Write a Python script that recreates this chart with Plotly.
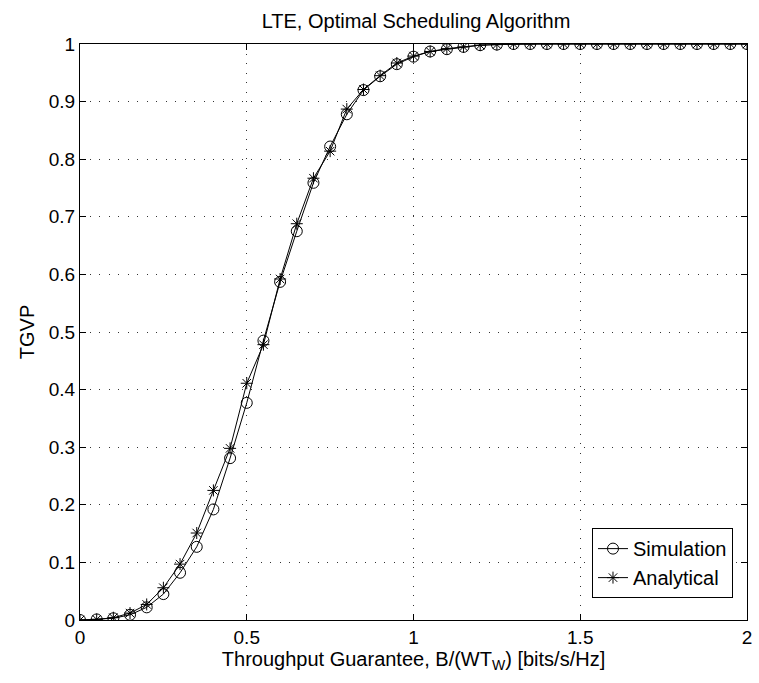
import plotly.graph_objects as go

x_vals = [round(0.05 * i, 2) for i in range(41)]
sim_vals = [0.0, 0.001, 0.003, 0.009, 0.022, 0.045, 0.082, 0.127, 0.192, 0.281,
            0.377, 0.485, 0.587, 0.675, 0.759, 0.822, 0.878, 0.920, 0.944, 0.965,
            0.978, 0.987, 0.991, 0.995, 0.998, 0.999, 1.0, 1.0, 1.0, 1.0,
            1.0, 1.0, 1.0, 1.0, 1.0, 1.0, 1.0, 1.0, 1.0, 1.0, 1.0]
ana_vals = [0.0, 0.001, 0.004, 0.012, 0.027, 0.056, 0.097, 0.151, 0.225, 0.298,
            0.411, 0.478, 0.592, 0.688, 0.767, 0.814, 0.887, 0.921, 0.945, 0.967,
            0.979, 0.987, 0.992, 0.995, 0.998, 0.999, 1.0, 1.0, 1.0, 1.0,
            1.0, 1.0, 1.0, 1.0, 1.0, 1.0, 1.0, 1.0, 1.0, 1.0, 1.0]

x_ticks = [0, 0.5, 1, 1.5, 2]
x_ticklabels = ["0", "0.5", "1", "1.5", "2"]
y_ticks = [round(0.1 * i, 1) for i in range(11)]
y_ticklabels = ["0", "0.1", "0.2", "0.3", "0.4", "0.5", "0.6", "0.7", "0.8", "0.9", "1"]

FONT = "Liberation Sans, Arial, Helvetica, sans-serif"

fig = go.Figure()
fig.add_trace(go.Scatter(
    x=x_vals, y=sim_vals, name="Simulation", mode="lines+markers",
    line=dict(color="black", width=1),
    marker=dict(symbol="circle-open", size=11, color="black", line=dict(width=1)),
))
fig.add_trace(go.Scatter(
    x=x_vals, y=ana_vals, name="Analytical", mode="lines+markers",
    line=dict(color="black", width=1),
    marker=dict(symbol="asterisk-open", size=10, color="black", line=dict(width=1)),
))

axis_common = dict(
    showline=True, linecolor="black", linewidth=1, mirror="allticks",
    ticks="inside", ticklen=6, tickcolor="black",
    showgrid=True, gridcolor="#333333", griddash="1px,8.5px", gridwidth=1,
    zeroline=False, tickfont=dict(family=FONT, size=19, color="black"),
)

fig.update_layout(
    width=759, height=683,
    margin=dict(l=80, r=7, t=44, b=63),
    paper_bgcolor="white", plot_bgcolor="white",
    font=dict(family=FONT, size=19, color="black"),
    title=dict(text="LTE, Optimal Scheduling Algorithm", x=(80 + 752) / 2 / 759, xanchor="center",
               y=1 - 21 / 683, yanchor="middle", font=dict(family=FONT, size=20, color="black")),
    xaxis=dict(range=[0, 2], tickvals=x_ticks, ticktext=x_ticklabels,
               title=dict(text="Throughput Guarantee, B/(WT<sub>W</sub>) [bits/s/Hz]",
                          font=dict(family=FONT, size=20), standoff=2),
               **axis_common),
    yaxis=dict(range=[0, 1], tickvals=y_ticks, ticktext=y_ticklabels,
               title=dict(text="TGVP", font=dict(family=FONT, size=20), standoff=8),
               **axis_common),
    legend=dict(x=0.979, y=0.038, xanchor="right", yanchor="bottom",
                bgcolor="white", bordercolor="black", borderwidth=1,
                font=dict(family=FONT, size=20, color="black"),
                tracegroupgap=0),
    showlegend=True,
)

fig.write_html("out.html")
